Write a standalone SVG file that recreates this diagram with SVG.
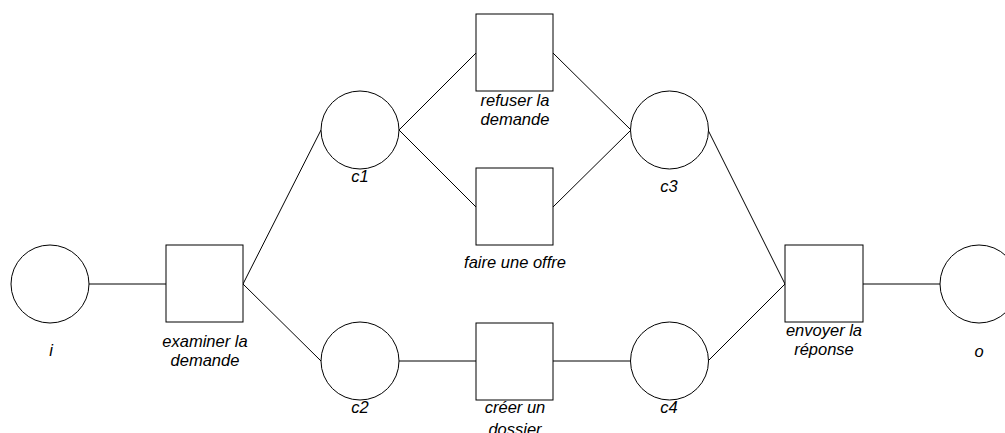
<svg xmlns="http://www.w3.org/2000/svg" width="1005" height="433" viewBox="0 0 1005 433">
<style>
.place{fill:#fff;stroke:#000;stroke-width:1}
.trans{fill:#fff;stroke:#000;stroke-width:1}
.edge{stroke:#000;stroke-width:1;fill:none}
text{font-family:"Liberation Sans",Arial,sans-serif;font-size:16.5px;font-style:italic;fill:#000;text-anchor:middle}
</style>
<rect width="1005" height="433" fill="#fff"/>
<g id="connectors">
<line class="edge" x1="89" y1="284" x2="166" y2="284"/>
<line class="edge" x1="243" y1="284" x2="321" y2="130"/>
<line class="edge" x1="243" y1="284" x2="321" y2="361"/>
<line class="edge" x1="399" y1="130" x2="476" y2="53"/>
<line class="edge" x1="399" y1="130" x2="476" y2="207"/>
<line class="edge" x1="553" y1="53" x2="631" y2="130"/>
<line class="edge" x1="553" y1="207" x2="631" y2="130"/>
<line class="edge" x1="399" y1="361" x2="476" y2="361"/>
<line class="edge" x1="553" y1="361" x2="631" y2="361"/>
<line class="edge" x1="708" y1="130" x2="785" y2="284"/>
<line class="edge" x1="708" y1="361" x2="785" y2="284"/>
<line class="edge" x1="863" y1="284" x2="940" y2="284"/>
</g>
<g id="i"><circle class="place" cx="50" cy="284" r="39"/><text x="51" y="356">i</text></g>
<g id="examiner"><rect class="trans" x="166" y="245" width="77" height="77"/><text x="205" y="347">examiner la</text><text x="205" y="366">demande</text></g>
<g id="c1"><circle class="place" cx="360" cy="130" r="39"/><text x="360" y="182">c1</text></g>
<g id="c2"><circle class="place" cx="360" cy="361" r="39"/><text x="360" y="413">c2</text></g>
<g id="refuser"><rect class="trans" x="476" y="14" width="77" height="77"/><text x="515" y="106">refuser la</text><text x="515" y="125">demande</text></g>
<g id="faire"><rect class="trans" x="476" y="168" width="77" height="77"/><text x="515" y="268">faire une offre</text></g>
<g id="creer"><rect class="trans" x="476" y="323" width="77" height="77"/><text x="515" y="413">créer un</text><text x="515" y="435">dossier</text></g>
<g id="c3"><circle class="place" cx="669.5" cy="130" r="39"/><text x="669" y="192">c3</text></g>
<g id="c4"><circle class="place" cx="669.5" cy="361" r="39"/><text x="669" y="413">c4</text></g>
<g id="envoyer"><rect class="trans" x="785" y="245" width="78" height="77"/><text x="824" y="336">envoyer la</text><text x="824" y="355">réponse</text></g>
<g id="o"><circle class="place" cx="979" cy="284" r="39"/><text x="979" y="357">o</text></g>
</svg>
